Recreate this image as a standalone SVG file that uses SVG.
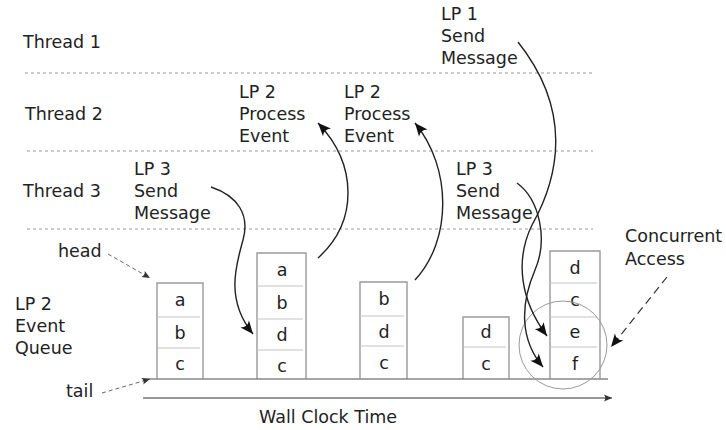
<svg xmlns="http://www.w3.org/2000/svg" width="726" height="430" viewBox="0 0 726 430">
<style>
text{font-family:"DejaVu Sans","Liberation Sans",sans-serif;font-size:17.5px;fill:#222}
.cell{text-anchor:middle}
.sep{stroke:#999;stroke-width:1;stroke-dasharray:3,3;fill:none}
.edge{stroke:#999;stroke-width:1.4;fill:none}
.div{stroke:#c4c4c4;stroke-width:1.2;fill:none}
.flow{stroke:#222;stroke-width:1.4;fill:none;marker-end:url(#ah)}
.ptr{stroke:#666;stroke-width:1;stroke-dasharray:4,3;fill:none;marker-end:url(#sh)}
</style>
<defs>
<marker id="ah" markerUnits="userSpaceOnUse" markerWidth="16" markerHeight="12" viewBox="-14 -6 16 12" refX="0" refY="0" orient="auto">
<path d="M0,0 L-13,-5.5 Q-8.5,0 -13,5.5 Z" fill="#111"/>
</marker>
<marker id="sh" markerUnits="userSpaceOnUse" markerWidth="10" markerHeight="8" viewBox="-9 -4 10 8" refX="0" refY="0" orient="auto">
<path d="M0,0 L-8,-3.5 Q-5.5,0 -8,3.5 Z" fill="#333"/>
</marker>
</defs>
<rect width="726" height="430" fill="#fff"/>
<g id="threads">
<line class="sep" x1="25" y1="73" x2="593" y2="73"/>
<line class="sep" x1="27" y1="151" x2="593" y2="151"/>
<line class="sep" x1="27" y1="229" x2="593" y2="229"/>
<text x="23" y="48">Thread 1</text>
<text x="25" y="120">Thread 2</text>
<text x="23" y="197">Thread 3</text>
</g>
<g id="labels">
<text x="134" y="175">LP 3</text><text x="134" y="197">Send</text><text x="134" y="219">Message</text>
<text x="239" y="98">LP 2</text><text x="239" y="120">Process</text><text x="239" y="142">Event</text>
<text x="344" y="98">LP 2</text><text x="344" y="120">Process</text><text x="344" y="142">Event</text>
<text x="441" y="20">LP 1</text><text x="441" y="42">Send</text><text x="441" y="64">Message</text>
<text x="456" y="175">LP 3</text><text x="456" y="197">Send</text><text x="456" y="219">Message</text>
<text x="625" y="242">Concurrent</text><text x="625" y="265">Access</text>
<text x="58" y="257">head</text>
<text x="66" y="397">tail</text>
<text x="15" y="310">LP 2</text><text x="15" y="332">Event</text><text x="15" y="354">Queue</text>
<text x="259" y="423">Wall Clock Time</text>
</g>
<g id="queue1">
<path class="edge" d="M157,379 V283 H203 V379"/>
<path class="div" d="M157,317 H200 M157,348 H200"/>
<text class="cell" x="180" y="306">a</text><text class="cell" x="180" y="339">b</text><text class="cell" x="180" y="370">c</text>
</g>
<g id="queue2">
<path class="edge" d="M257,379 V253 H306 V379"/>
<path class="div" d="M257,286 H303 M257,319 H303 M257,350 H303"/>
<text class="cell" x="282" y="276">a</text><text class="cell" x="282" y="309">b</text><text class="cell" x="282" y="341">d</text><text class="cell" x="282" y="372">c</text>
</g>
<g id="queue3">
<path class="edge" d="M360,379 V282 H407 V379"/>
<path class="div" d="M360,316 H404 M360,346 H404"/>
<text class="cell" x="384" y="305">b</text><text class="cell" x="384" y="338">d</text><text class="cell" x="384" y="369">c</text>
</g>
<g id="queue4">
<path class="edge" d="M463,379 V317 H509 V379"/>
<path class="div" d="M463,347 H506"/>
<text class="cell" x="486" y="338">d</text><text class="cell" x="486" y="370">c</text>
</g>
<g id="queue5">
<path class="edge" d="M550,379 V251 H600 V379"/>
<path class="div" d="M550,283 H597 M550,317 H597 M550,347 H597"/>
<text class="cell" x="575" y="274">d</text><text class="cell" x="575" y="306">c</text><text class="cell" x="575" y="338">e</text><text class="cell" x="575" y="370">f</text>
</g>
<g id="axis">
<line x1="143" y1="379" x2="608" y2="379" stroke="#888" stroke-width="1.5"/>
<line x1="143" y1="398" x2="612" y2="398" stroke="#333" stroke-width="1.2" marker-end="url(#sh)"/>
<circle cx="563" cy="345" r="44" fill="none" stroke="#999" stroke-width="1"/>
</g>
<g id="connectors">
<path class="flow" d="M211,187 C238,196 250,215 243,240 C236,265 225,300 253,334"/>
<path class="flow" d="M318,258 C358,222 358,165 318,123"/>
<path class="flow" d="M415,280 C452,240 452,168 415,123"/>
<path class="flow" d="M518,42 C572,110 560,175 532,225 C515,260 520,300 547,336"/>
<path class="flow" d="M517,183 C540,200 548,240 535,270 C520,305 520,340 543,367"/>
<path class="ptr" d="M108,254 L150,278"/>
<path class="ptr" d="M102,393 L150,379"/>
<path d="M667,277 L611,347" stroke="#333" stroke-width="1.2" stroke-dasharray="8,5" fill="none" marker-end="url(#ah)"/>
</g>
</svg>
